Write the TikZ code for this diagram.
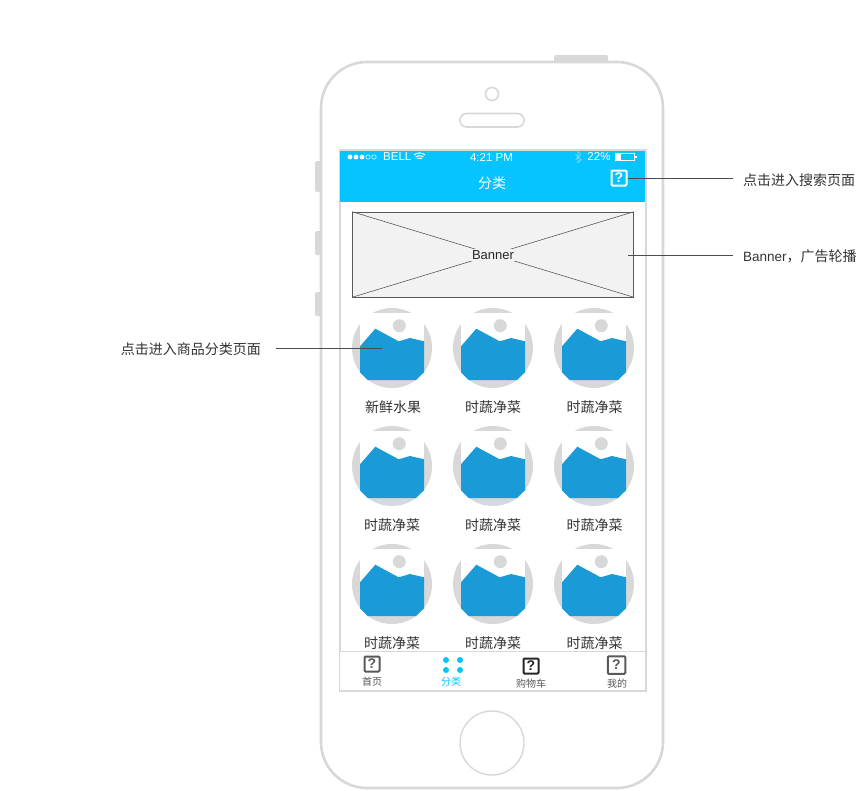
\documentclass[tikz,border=0pt]{standalone}
\usepackage{fontspec}
\setmainfont{Liberation Sans}
\newfontfamily\cjk{Noto Sans CJK SC}
\usetikzlibrary{calc}
\definecolor{shell}{HTML}{D8D8D8}
\definecolor{headblue}{HTML}{06C4FF}
\definecolor{picblue}{HTML}{1A9AD6}
\definecolor{ink}{HTML}{333333}
\tikzset{
  shellline/.style={draw=shell,line width=2.6pt},
  note/.style={font=\cjk\fontsize{14}{16}\selectfont,text=ink,inner sep=0pt},
  catlabel/.style={font=\cjk\fontsize{14}{16}\selectfont,text=ink,inner sep=0pt},
  tablabel/.style={font=\cjk\fontsize{10}{11}\selectfont,text=black!65,inner sep=0pt},
  statustext/.style={font=\fontsize{11.5}{13}\selectfont,text=white,inner sep=0pt},
  leader/.style={draw=black!70,line width=0.7pt},
  sidekey/.style={fill=shell,rounded corners=2pt},
  helpbox/.style={draw=#1,line width=2pt,rounded corners=1pt,minimum size=15pt,inner sep=0pt,
    font=\bfseries\fontsize{14}{15}\selectfont,text=#1},
}
\newcommand{\caticon}[3]{% x, y, node name
  \fill[shell] (#1,#2) circle (40);
  \fill[white] ($(#1,#2)+(-32,-35)$) rectangle ($(#1,#2)+(32,32)$);
  \fill[shell] ($(#1,#2)+(7.3,-22.3)$) circle (6.5);
  \fill[picblue] ($(#1,#2)+(-32,-1.7)$) -- ($(#1,#2)+(-16.7,-19.3)$) -- ($(#1,#2)+(6.7,-6.7)$)
    -- ($(#1,#2)+(18,-10)$) -- ($(#1,#2)+(32,-6.7)$) -- ($(#1,#2)+(32,24.3)$)
    -- ($(#1,#2)+(24,32)$) -- ($(#1,#2)+(-24.3,32)$) -- ($(#1,#2)+(-32,24.3)$) -- cycle;
  \coordinate (#3) at (#1,#2);
}
\begin{document}
\begin{tikzpicture}[x=1pt,y=-1pt]
  \useasboundingbox (0,0) rectangle (859,790);

  % phone body
  \fill[sidekey] (554,55) rectangle (608,66);
  \fill[sidekey] (315,161) rectangle (325,192);
  \fill[sidekey] (315,231) rectangle (325,255);
  \fill[sidekey] (315,292) rectangle (325,316);
  \draw[shellline,fill=white,rounded corners=46pt] (321,62) rectangle (663,788);
  \draw[draw=shell,line width=1.6pt] (492,94) circle (6.5);
  \draw[draw=shell,line width=1.6pt,rounded corners=6.5pt] (460,113.5) rectangle (524,127);
  \draw[draw=shell,line width=1.4pt] (492,743) circle (32);

  % screen
  \draw[draw=shell,line width=2pt] (339.5,150) rectangle (646,691);
  \fill[headblue] (340,151) rectangle (645,202);

  % status bar
  \foreach \dx in {0,1,2} \fill[white] (350+6*\dx,157) circle (2.4);
  \foreach \dx in {3,4} \draw[white,line width=0.5pt] (350+6*\dx,157) circle (2.2);
  \node[statustext,anchor=west] (carrier) at (383,157) {BELL};
  \foreach \rr in {3.5,6,8.5} \draw[white,line width=1.1pt] (419.5,161.5)+(230:\rr) arc[start angle=230,end angle=310,radius=\rr];
  \node[statustext] (clock) at (491.5,157) {4:21 PM};
  \draw[white!45!headblue,line width=0.7pt] (575.5,154.5) -- (581,159.5) -- (578,162.5) -- (578,151.5) -- (581,154.5) -- (575.5,159.5);
  \node[statustext] (percent) at (599,157) {22\%};
  \draw[white,line width=0.7pt] (615,153.5) rectangle (634,160.5);
  \fill[white] (615,153.5) rectangle (621,160.5);
  \fill[white] (635,156) rectangle (637,158);

  \node[font=\cjk\fontsize{14}{16}\selectfont,text=white,inner sep=0pt] (title) at (492,183) {分类};
  \node[helpbox=white] (search) at (619,178) {?};

  % banner
  \node[draw=black!65,line width=0.7pt,fill=black!5,minimum width=281.5pt,minimum height=85pt,inner sep=0pt] (banner) at (493,254.5) {};
  \draw[black!65,line width=0.6pt] (banner.north west) -- (banner.south east) (banner.south west) -- (banner.north east);
  \node[fill=black!5,inner sep=1.5pt,font=\fontsize{13}{15}\selectfont,text=black!85] (bannertext) at (493,255) {Banner};
  \coordinate (bannerpin) at (628,255);

  % categories
  \foreach \col/\x in {0/392,1/493,2/594}
    \foreach \row/\y in {0/348,1/466,2/584}
      \caticon{\x}{\y}{cat\col\row};

  \node[catlabel] (l00) at (393,407) {新鲜水果};
  \node[catlabel] (l10) at (493,407) {时蔬净菜};
  \node[catlabel] (l20) at (594.5,407) {时蔬净菜};
  \foreach \yy/\rr in {525/1,643/2}{
    \node[catlabel] (l0\rr) at (392,\yy) {时蔬净菜};
    \node[catlabel] (l1\rr) at (493,\yy) {时蔬净菜};
    \node[catlabel] (l2\rr) at (594.5,\yy) {时蔬净菜};
  }

  % tab bar
  \fill[white] (340,652) rectangle (645,690);
  \draw[draw=shell,line width=0.8pt] (340,651.5) -- (645,651.5);
  \node[helpbox=black!65,fill=white] (tab1) at (372,664) {?};
  \node[tablabel] (tab1t) at (372,681.5) {首页};
  \foreach \px in {446,460} \foreach \py in {660,670} \fill[headblue] (\px,\py) circle (3);
  \node[tablabel,text=headblue] (tab2t) at (451,682) {分类};
  \node[helpbox=black!85,fill=white] (tab3) at (531,666) {?};
  \node[tablabel] (tab3t) at (531,683.5) {购物车};
  \node[helpbox=black!65,fill=white,minimum size=17.5pt] (tab4) at (616.5,665) {?};
  \node[tablabel] (tab4t) at (617,684) {我的};

  % notes
  \node[note,anchor=west] (note1) at (743,180) {点击进入搜索页面};
  \node[note,anchor=west,font=\fontsize{13.5}{16}\selectfont] (note2) at (743,256) {Banner{\cjk\fontsize{14}{16}\selectfont ，广告轮播}};
  \node[note,anchor=east] (note3) at (261,349) {点击进入商品分类页面};
  \coordinate (note1end) at (733,178.5);
  \coordinate (note2end) at (733,255);
  \coordinate (note3end) at (276,348);
  \draw[leader] (search.east |- note1end) -- (note1end);
  \draw[leader] (bannerpin) -- (note2end);
  \draw[leader,shorten >=10pt] (note3end) -- (cat00);
\end{tikzpicture}
\end{document}
